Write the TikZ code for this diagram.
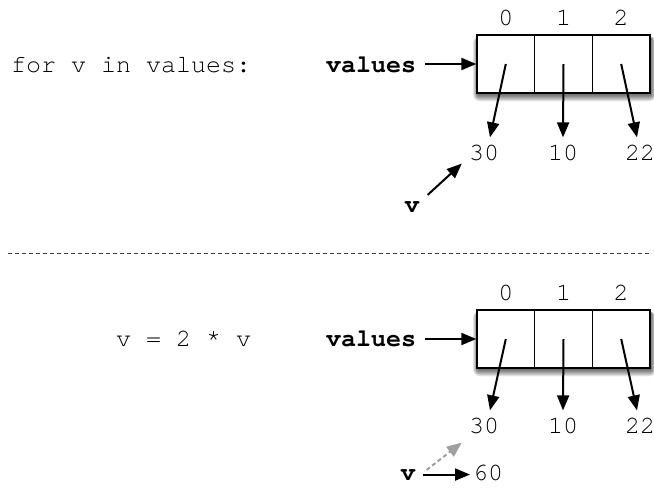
\documentclass[tikz,border=0pt]{standalone}
\usepackage{fontspec}
\setmonofont{TeX Gyre Cursor}
\usetikzlibrary{arrows.meta}
\begin{document}
\begin{tikzpicture}[x=1pt,y=-1pt,
  code/.style={font=\fontsize{25}{30}\selectfont\ttfamily, inner sep=0pt},
  bcode/.style={font=\fontsize{25}{30}\selectfont\ttfamily\bfseries, inner sep=0pt},
  arr/.style={line width=2pt, -{Triangle[length=15pt,width=12pt]}},
  ghost/.style={line width=2pt, gray!75, dash pattern=on 4pt off 3pt, -{Triangle[length=15pt,width=12pt]}},
  cell/.style={draw, line width=1.2pt, minimum width=57.7pt, minimum height=58pt, inner sep=0pt, fill=white},
  shade/.style={black, opacity=0.09}
]
\useasboundingbox[fill=white] (0,0) rectangle (654,491);

% ---------- top half ----------
\node[code, anchor=base west] (loop) at (11,72) {for v in values:};
% shadow
\foreach \s in {0,...,7}
  \fill[shade, rounded corners=\s pt] (477-\s*0.7+1, 35+3-\s*0.3) rectangle (650+\s*0.7+1, 93+2+\s*0.9);
\node[cell] (a0) at (505.8,64) {};
\node[cell] (a1) at (563.5,64) {};
\node[cell] (a2) at (621.2,64) {};
\node[code, anchor=base] (i0) at (505.8,25) {0};
\node[code, anchor=base] (i1) at (563.5,25) {1};
\node[code, anchor=base] (i2) at (621.2,25) {2};
\node[bcode, anchor=base west] (vals) at (326,72) {values};
\draw[arr] ([xshift=9pt]vals.east |- a0.west) -- (a0.west);
\node[code, anchor=base] (n0) at (484,160) {30};
\node[code, anchor=base] (n1) at (563,160) {10};
\node[code, anchor=base] (n2) at (640,160) {22};
\draw[arr] (a0.center) -- ([xshift=6pt,yshift=7pt]n0.north);
\draw[arr] (a1.center) -- ([yshift=7pt]n1.north);
\draw[arr] (a2.center) -- ([xshift=-3pt,yshift=7pt]n2.north);
\node[bcode, anchor=base] (v) at (412,212) {v};
\draw[arr] ([xshift=8pt,yshift=6pt]v.north east) -- ([xshift=-7pt,yshift=-3pt]n0.south west);

% ---------- separator ----------
\coordinate (sepL) at (8,253);
\coordinate (sepR) at (650,253);
\draw[black!75, line width=1pt, dash pattern=on 4pt off 3pt] (sepL) -- (sepR);

% ---------- bottom half ----------
\node[code, anchor=base west] (assign) at (116,346) {v = 2 * v};
\foreach \s in {0,...,7}
  \fill[shade, rounded corners=\s pt] (477-\s*0.7+1, 310+3-\s*0.3) rectangle (650+\s*0.7+1, 368+2+\s*0.9);
\node[cell] (b0) at (505.8,339) {};
\node[cell] (b1) at (563.5,339) {};
\node[cell] (b2) at (621.2,339) {};
\node[code, anchor=base] (j0) at (505.8,300) {0};
\node[code, anchor=base] (j1) at (563.5,300) {1};
\node[code, anchor=base] (j2) at (621.2,300) {2};
\node[bcode, anchor=base west] (vals2) at (326,346) {values};
\draw[arr] ([xshift=9pt]vals2.east |- b0.west) -- (b0.west);
\node[code, anchor=base] (m0) at (484,433) {30};
\node[code, anchor=base] (m1) at (563,433) {10};
\node[code, anchor=base] (m2) at (640,433) {22};
\draw[arr] (b0.center) -- ([xshift=6pt,yshift=7pt]m0.north);
\draw[arr] (b1.center) -- ([yshift=7pt]m1.north);
\draw[arr] (b2.center) -- ([xshift=-3pt,yshift=7pt]m2.north);
\node[bcode, anchor=base] (w) at (408,480) {v};
\node[code, anchor=base west] (sixty) at (473,480) {60};
\draw[ghost] ([xshift=11pt,yshift=-1pt]w.north east) -- ([xshift=-7pt,yshift=-9pt]m0.south west);
\draw[arr] ([xshift=7pt]w.east) -- ([xshift=-3pt]sixty.west |- w.east);
\end{tikzpicture}
\end{document}
